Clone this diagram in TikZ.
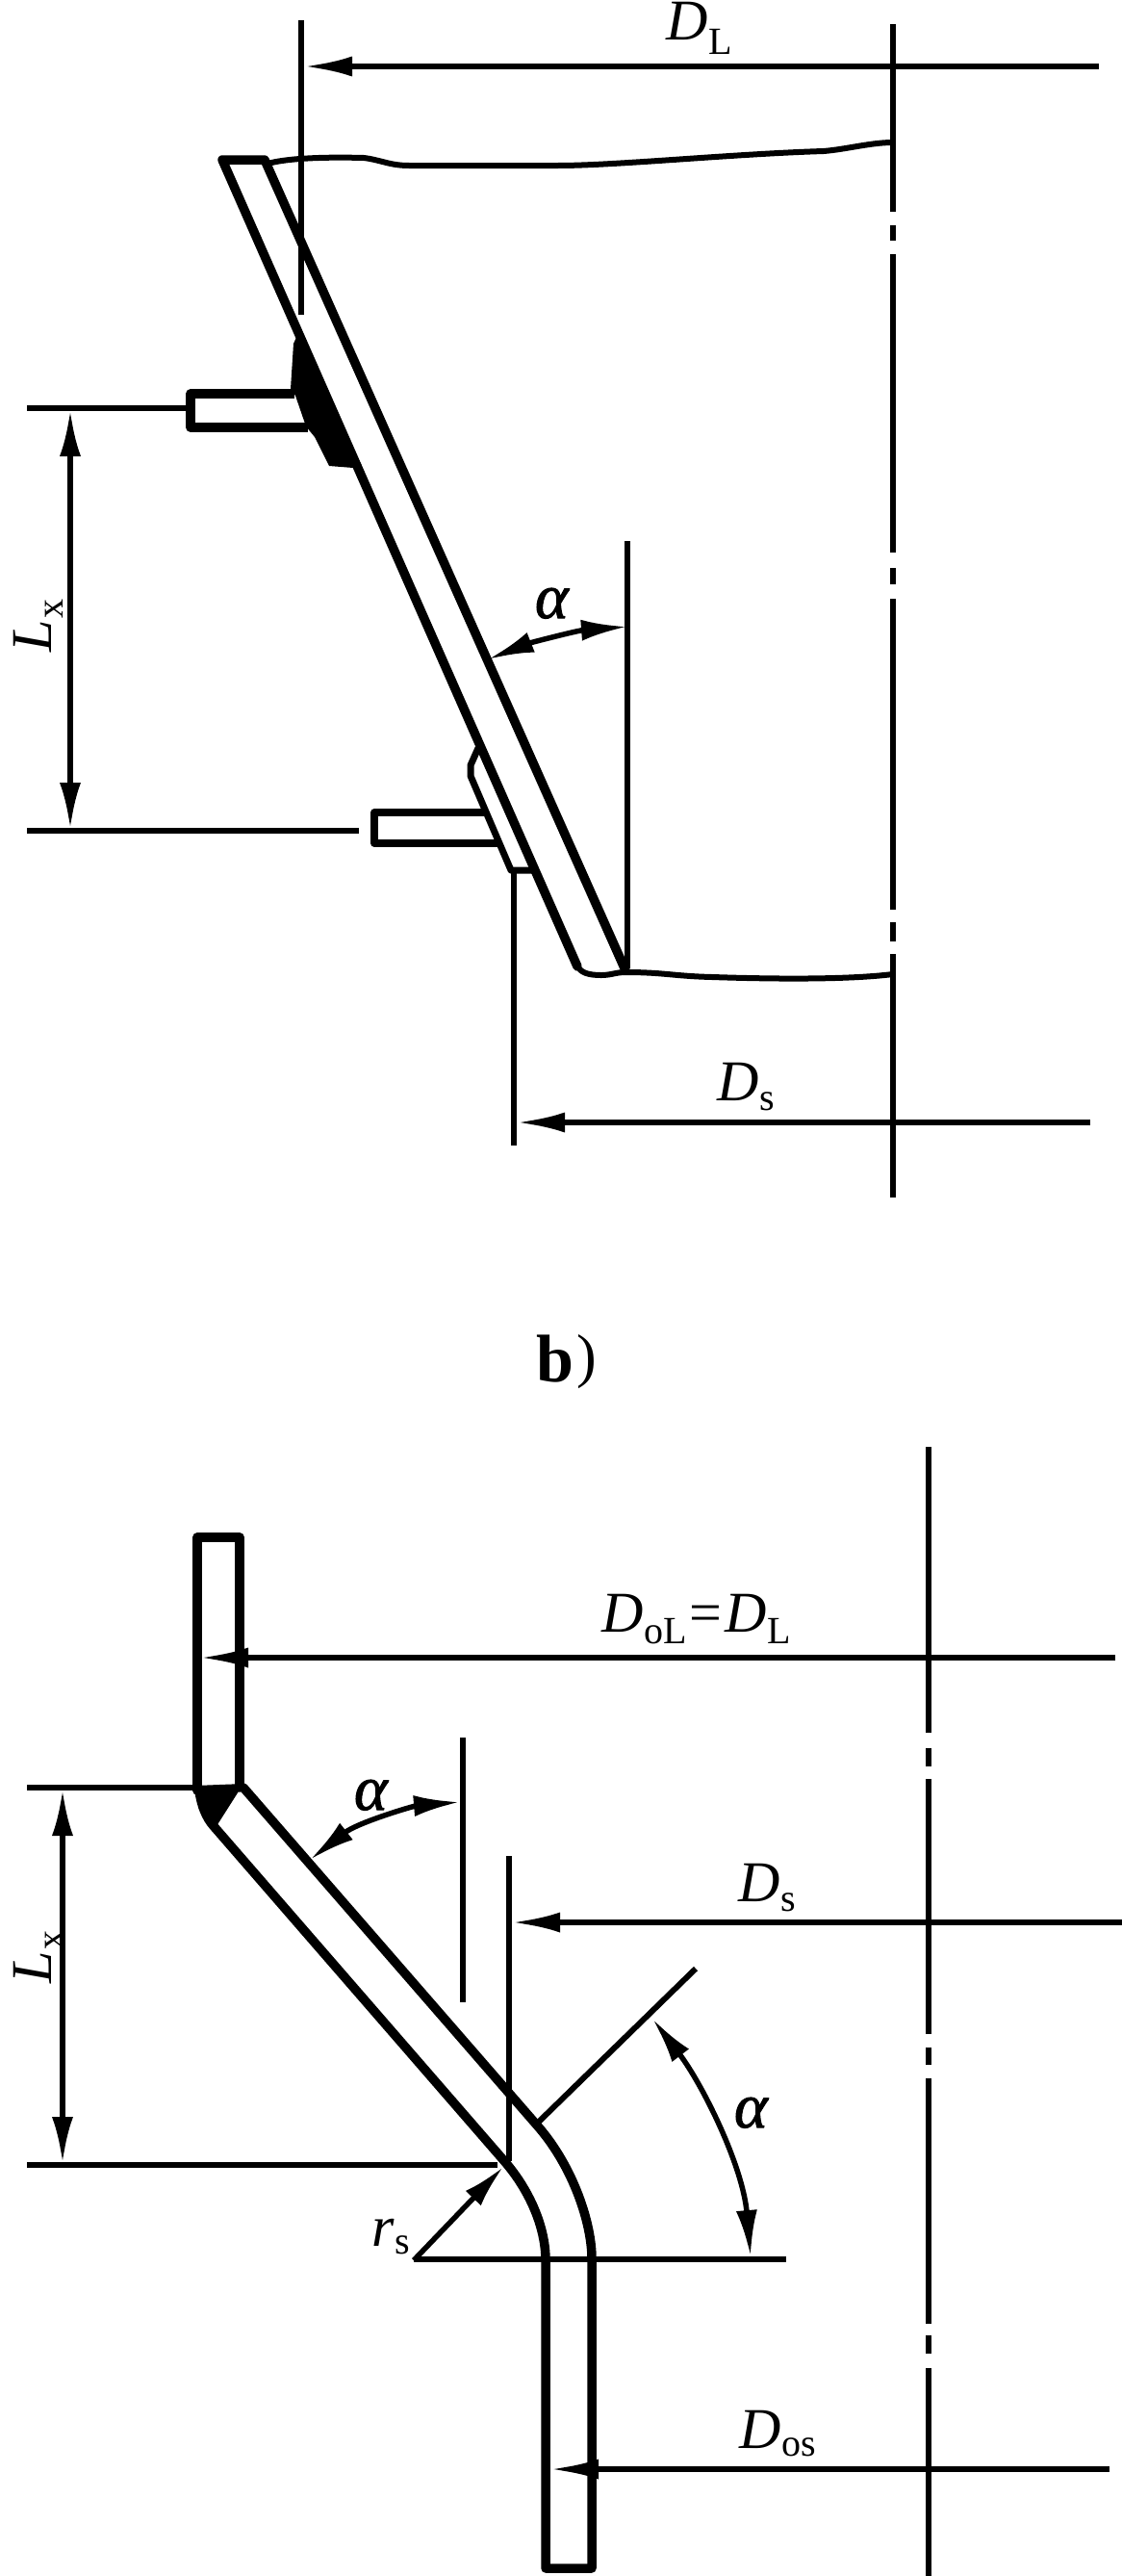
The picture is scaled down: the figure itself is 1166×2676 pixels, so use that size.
\documentclass[tikz,border=0pt]{standalone}
\usepackage{fontspec}
\setmainfont{Liberation Serif}
\newfontface\alphaface[FakeBold=1.5]{Liberation Serif Italic}
\usetikzlibrary{arrows.meta}
\newcommand{\dimsub}[3][12pt]{\textit{#2}\kern1pt\raisebox{-#1}{\fontsize{40}{40}\selectfont #3}}
\newcommand{\alphasym}{{\fontsize{66}{66}\selectfont\alphaface α}}
\tikzset{
  wall/.style={line width=9.5pt,line join=round,line cap=round},
  thinwall/.style={line width=7pt,line join=round},
  fine/.style={line width=6pt},
  axisline/.style={line width=6.5pt},
  tipa/.style={-{Latex[length=50pt,width=21pt]},line width=5.5pt},
  tipb/.style={{Latex[length=48pt,width=22pt]}-{Latex[length=48pt,width=22pt]},line width=5.5pt},
  lab/.style={inner sep=0pt,outer sep=0pt,font=\fontsize{60}{60}\selectfont,anchor=base west},
}
\begin{document}
\begin{tikzpicture}[x=1pt,y=-1pt]
\useasboundingbox (0,0) rectangle (1166,2676);

% ---------- upper figure: centre line
\foreach \a/\b in {25/220,234/250,264/574,590/607,622/945,958/978,991/1244}
  \draw[axisline] (928,\a) -- (928,\b);

% water lines
\draw[fine] (278,170) .. controls (300,164) and (340,163) .. (378,164)
  .. controls (395,166) and (405,172) .. (425,172) -- (580,172)
  .. controls (640,172) and (760,160) .. (856,157) .. controls (880,155) and (905,148) .. (928,148);
\draw[fine] (600,1004) .. controls (604,1010) and (610,1013) .. (625,1013)
  .. controls (635,1013) and (640,1010) .. (650,1010)
  .. controls (690,1010) and (700,1014) .. (740,1015) .. controls (800,1017) and (880,1018) .. (928,1012);

% conical plate
\draw[wall] (600,1004) -- (231,166) -- (275,166) -- (650,1008);

% upper stiffener and weld
\draw[wall,line cap=butt] (306,409) -- (198,409) -- (198,444) -- (320,444);
\fill (310,346) -- (305,357) -- (302,404) -- (307,411) -- (318,443) -- (327,454) -- (342,484)
  -- (367,486) -- (376,484) -- cycle;

% lower stiffener and pad
\draw[wall,line cap=butt,line width=7.5pt] (505,844) -- (389,844) -- (389,876) -- (517,876);
\draw[thinwall] (497,777) -- (489,795) -- (489,806) -- (531,904) -- (553,904);

% extension lines
\draw[fine] (313,21) -- (313,327);
\draw[fine] (652,562) -- (652,1006);
\draw[fine] (534,904) -- (534,1190);
\draw[fine] (28,424) -- (193,424);
\draw[fine] (28,863) -- (373,863);

% dimensions
\draw[tipa] (1142,69) -- (316,69);
\draw[tipa] (1133,1166) -- (537,1166);
\draw[tipb] (73,426) -- (73,861);
\draw[tipb] (507,685) .. controls (550,668) and (600,655) .. (652,651);

\node[lab] (dl) at (692,42) {\dimsub[15pt]{D}{L}};
\node[lab] (ds1) at (745,1143) {\dimsub[10pt]{D}{s}};
\node[lab] (alpha1) at (556,642) {\alphasym};
\node[lab,rotate=90] (lx1) at (53,677) {\dimsub{L}{x}};

% caption
\node[lab,font=\fontsize{70}{70}\selectfont] (cap) at (557,1435) {\textbf{b}\kern4pt\raisebox{5.6pt}{\fontsize{62}{62}\selectfont )}};

% ---------- lower figure: centre line
\foreach \a/\b in {1503/1800,1816/1835,1848/2113,2127/2145,2159/2414,2426/2445,2460/2676}
  \draw[axisline] (965,\a) -- (965,\b);

% pipe
\draw[wall] (207,1860) .. controls (209,1875) and (214,1888) .. (222,1897) -- (525,2246)
  .. controls (549,2274) and (567,2312) .. (567,2348) -- (567,2668) -- (615,2668) -- (615,2346)
  .. controls (615,2310) and (596,2252) .. (560,2210) -- (253,1857);
\draw[wall] (205,1860) -- (205,1597) -- (249,1597) -- (249,1857);
\fill (202,1855) -- (253,1853) -- (225,1897) -- (217,1895) -- (207,1880) -- cycle;

% extension lines
\draw[fine] (28,1857) -- (202,1857);
\draw[fine] (28,2249) -- (517,2249);
\draw[fine] (481,1805) -- (481,2080);
\draw[fine] (529,1928) -- (529,2245);
\draw[fine] (723,2045) -- (560,2204);
\draw[fine] (430,2347) -- (817,2347);

% dimensions
\draw[tipa] (1159,1722) -- (208,1722);
\draw[tipa] (1166,1997) -- (532,1997);
\draw[tipa] (1153,2565) -- (572,2565);
\draw[tipb] (65,1859) -- (65,2247);
\draw[tipb] (322,1932) .. controls (372,1893) and (430,1876) .. (478,1872);
\draw[tipb] (678,2097) .. controls (730,2165) and (772,2250) .. (780,2344);
\draw[-{Latex[length=45pt,width=22pt]},line width=5.5pt] (430,2348) -- (523,2251);

\node[lab] (dol) at (625,1695) {\dimsub{D}{oL}\kern3pt=\kern3pt\dimsub{D}{L}};
\node[lab] (ds2) at (767,1975) {\dimsub[10pt]{D}{s}};
\node[lab] (dos) at (768,2543) {\dimsub[8pt]{D}{os}};
\node[lab] (alpha2) at (368,1880) {\alphasym};
\node[lab] (alpha3) at (763,2210) {\alphasym};
\node[lab] (rs) at (386,2333) {\dimsub[8pt]{r}{s}};
\node[lab,rotate=90] (lx2) at (53,2060) {\dimsub{L}{x}};
\end{tikzpicture}
\end{document}
